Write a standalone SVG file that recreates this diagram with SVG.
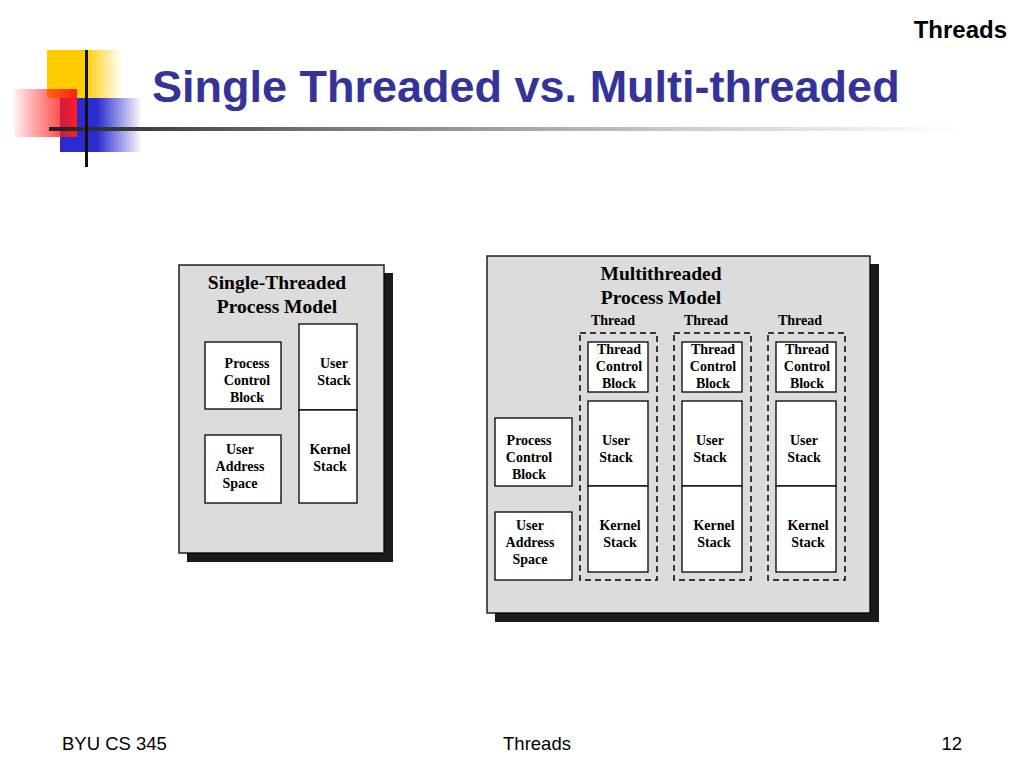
<svg xmlns="http://www.w3.org/2000/svg" width="1024" height="768" viewBox="0 0 1024 768">
<defs>
<linearGradient id="gy" x1="0" y1="0" x2="1" y2="0"><stop offset="0" stop-color="#ffcc00"/><stop offset="0.5" stop-color="#ffcc00"/><stop offset="1" stop-color="#ffcc00" stop-opacity="0"/></linearGradient>
<linearGradient id="gr" x1="0" y1="0" x2="1" y2="0"><stop offset="0" stop-color="#ff0000" stop-opacity="0.05"/><stop offset="1" stop-color="#ff2020"/></linearGradient>
<linearGradient id="gb" x1="0" y1="0" x2="1" y2="0"><stop offset="0" stop-color="#2b2bd0"/><stop offset="0.45" stop-color="#2b2bd0"/><stop offset="1" stop-color="#2b2bd0" stop-opacity="0"/></linearGradient>
<linearGradient id="gl" x1="0" y1="0" x2="1" y2="0"><stop offset="0" stop-color="#222"/><stop offset="0.3" stop-color="#777"/><stop offset="0.7" stop-color="#ccc"/><stop offset="1" stop-color="#fff"/></linearGradient>
<style>
.t{font-family:"Liberation Serif",serif;font-weight:bold;fill:#000;text-anchor:middle}
.s{font-size:14px}
.h{font-size:19.5px}
.b{fill:#fff;stroke:#000;stroke-width:1.3}
.p{fill:#dcdcdc;stroke:#000;stroke-width:1.3}
.sh{fill:#1a1a1a}
.d{fill:none;stroke:#000;stroke-width:1.5;stroke-dasharray:6,4}
.f{font-family:"Liberation Sans",sans-serif;font-size:18.5px;fill:#000}
</style>
</defs>
<rect width="1024" height="768" fill="#fff"/>
<g id="logo">
<rect x="47" y="50" width="75" height="48" fill="url(#gy)"/>
<rect x="60" y="98" width="82" height="54" fill="url(#gb)"/>
<rect x="14" y="89" width="63" height="48" fill="url(#gr)"/>
<rect x="49" y="127" width="911" height="4" fill="url(#gl)"/>
<rect x="85" y="50" width="3" height="117" fill="#111"/>
</g>
<text x="152" y="102" font-family="Liberation Sans,sans-serif" font-weight="bold" font-size="45" fill="#333399">Single Threaded vs. Multi-threaded</text>
<text x="1007" y="38" font-family="Liberation Sans,sans-serif" font-weight="bold" font-size="24" fill="#000" text-anchor="end">Threads</text>
<g id="single">
<rect class="sh" x="187" y="273" width="206" height="289"/>
<rect class="p" x="179" y="265" width="205" height="288"/>
<text class="t h" x="277" y="289">Single-Threaded</text>
<text class="t h" x="277" y="313">Process Model</text>
</g>
<g id="s-pcb"><rect class="b" x="205" y="342" width="76" height="67"/>
<text class="t s" x="247" y="368">Process</text><text class="t s" x="247" y="385">Control</text><text class="t s" x="247" y="402">Block</text></g>
<g id="s-us"><rect class="b" x="299" y="324" width="58" height="86"/>
<text class="t s" x="334" y="368">User</text><text class="t s" x="334" y="385">Stack</text></g>
<g id="s-ks"><rect class="b" x="299" y="410" width="58" height="93"/>
<text class="t s" x="330" y="454">Kernel</text><text class="t s" x="330" y="471">Stack</text></g>
<g id="s-uas"><rect class="b" x="205" y="435" width="76" height="68"/>
<text class="t s" x="240" y="454">User</text><text class="t s" x="240" y="471">Address</text><text class="t s" x="240" y="488">Space</text></g>
<g id="multi">
<rect class="sh" x="495" y="264" width="384" height="358"/>
<rect class="p" x="487" y="256" width="383" height="357"/>
<text class="t h" x="661" y="280">Multithreaded</text>
<text class="t h" x="661" y="304">Process Model</text>
</g>
<g id="m-pcb"><rect class="b" x="495" y="418" width="77" height="68"/>
<text class="t s" x="529" y="445">Process</text><text class="t s" x="529" y="462">Control</text><text class="t s" x="529" y="479">Block</text></g>
<g id="m-uas"><rect class="b" x="495" y="512" width="77" height="68"/>
<text class="t s" x="530" y="530">User</text><text class="t s" x="530" y="547">Address</text><text class="t s" x="530" y="564">Space</text></g>
<g id="thread1">
<text class="t s" x="613" y="325">Thread</text>
<rect class="d" x="580" y="333" width="77" height="247"/>
<rect class="b" x="588" y="342" width="60" height="50"/>
<text class="t s" x="619" y="354">Thread</text><text class="t s" x="619" y="371">Control</text><text class="t s" x="619" y="388">Block</text>
<rect class="b" x="588" y="401" width="60" height="85"/>
<text class="t s" x="616" y="445">User</text><text class="t s" x="616" y="462">Stack</text>
<rect class="b" x="588" y="486" width="60" height="86"/>
<text class="t s" x="620" y="530">Kernel</text><text class="t s" x="620" y="547">Stack</text>
</g>
<g id="thread2">
<text class="t s" x="706" y="325">Thread</text>
<rect class="d" x="674" y="333" width="77" height="247"/>
<rect class="b" x="682" y="342" width="60" height="50"/>
<text class="t s" x="713" y="354">Thread</text><text class="t s" x="713" y="371">Control</text><text class="t s" x="713" y="388">Block</text>
<rect class="b" x="682" y="401" width="60" height="85"/>
<text class="t s" x="710" y="445">User</text><text class="t s" x="710" y="462">Stack</text>
<rect class="b" x="682" y="486" width="60" height="86"/>
<text class="t s" x="714" y="530">Kernel</text><text class="t s" x="714" y="547">Stack</text>
</g>
<g id="thread3">
<text class="t s" x="800" y="325">Thread</text>
<rect class="d" x="768" y="333" width="77" height="247"/>
<rect class="b" x="776" y="342" width="60" height="50"/>
<text class="t s" x="807" y="354">Thread</text><text class="t s" x="807" y="371">Control</text><text class="t s" x="807" y="388">Block</text>
<rect class="b" x="776" y="401" width="60" height="85"/>
<text class="t s" x="804" y="445">User</text><text class="t s" x="804" y="462">Stack</text>
<rect class="b" x="776" y="486" width="60" height="86"/>
<text class="t s" x="808" y="530">Kernel</text><text class="t s" x="808" y="547">Stack</text>
</g>
<g id="connectors"/>
<text class="f" x="62" y="750">BYU CS 345</text>
<text class="f" x="537" y="750" text-anchor="middle">Threads</text>
<text class="f" x="962" y="750" text-anchor="end">12</text>
</svg>
